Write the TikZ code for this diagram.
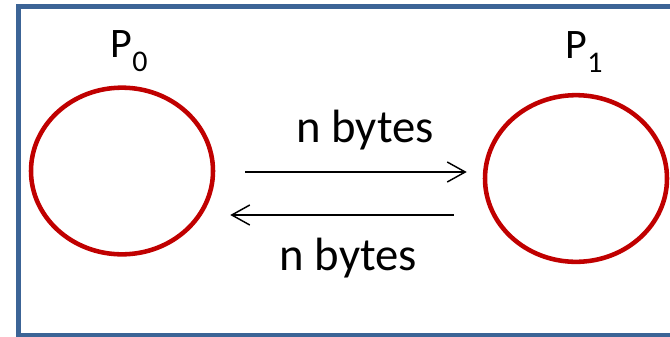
\documentclass[tikz,border=0pt]{standalone}
\usepackage{fontspec}
\setmainfont{Carlito}
\usetikzlibrary{shapes.geometric,arrows.meta}

\begin{document}
\begin{tikzpicture}[x=0.75pt,y=-0.75pt,font=\fontsize{35}{40}\selectfont]
\definecolor{frame}{HTML}{3C6496}\definecolor{proc}{HTML}{C00000}
\tikzset{
  procnode/.style={draw=proc,line width=3.4pt,ellipse,inner sep=0pt,
    minimum width=136.5pt,minimum height=125pt},
  msg/.style={line width=1.1pt,-{Straight Barb[length=13.5pt,width=15pt,line width=1.1pt]}},
  plabel/.style={anchor=base west,font=\fontsize{31.5}{36}\selectfont}
}
\useasboundingbox (0,0) rectangle (670,336);
\clip (0,0) rectangle (670,336);
\draw[frame,line width=3.75pt] (18.5,6.5) rectangle (690,335);
\node[procnode] (p0) at (122,171) {};
\node[procnode] (p1) at (576,178.5) {};
\node[plabel] (l0) at (106,57) {P\raisebox{-11pt}{\fontsize{22.5}{24}\selectfont 0}};
\node[plabel] (l1) at (561,58) {P\raisebox{-11pt}{\fontsize{22.5}{24}\selectfont 1}};
\draw[msg] ([shift={(30,1)}]p0.east) -- ([shift={(-16,-6.5)}]p1.west);
\draw[msg] ([shift={(-29,36.5)}]p1.west) -- ([shift={(15,44)}]p0.east);
\node[anchor=base] (up) at (365,142) {n bytes};
\node[anchor=base] (down) at (348.5,270) {n bytes};
\end{tikzpicture}
\end{document}
